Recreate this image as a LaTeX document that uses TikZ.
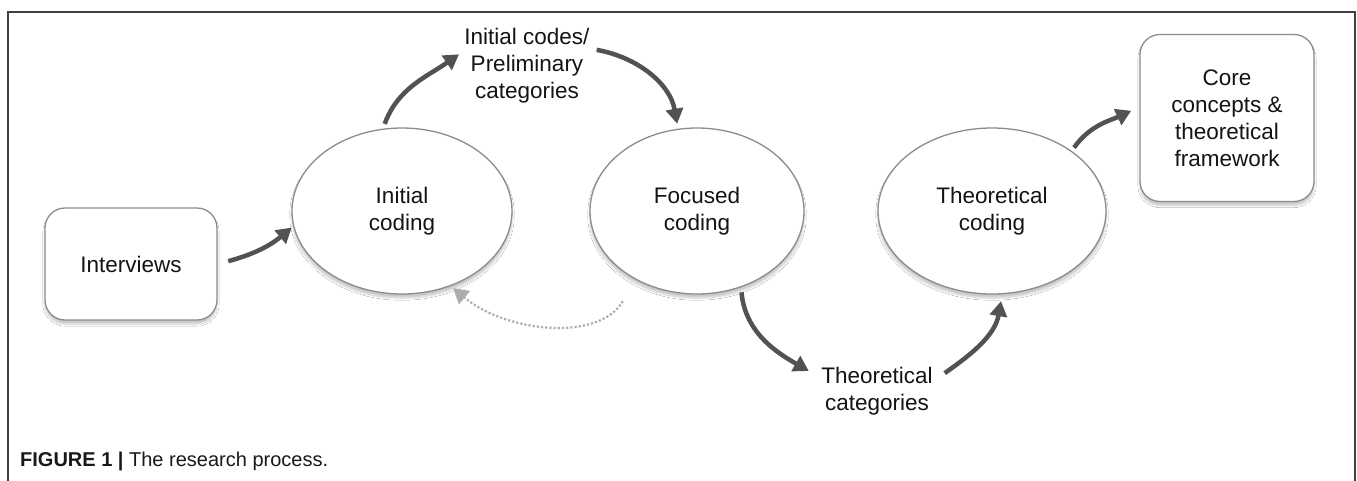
\documentclass[tikz,border=0pt]{standalone}
\usepackage{fontspec}
\setmainfont{Liberation Sans}
\usetikzlibrary{shapes.geometric,arrows.meta,shadows.blur}
\begin{document}
\begin{tikzpicture}[x=1pt,y=-1pt,
  lbl/.style={font=\fontsize{22.5}{27}\selectfont, align=center, inner sep=2pt, text=black!92},
  softshadow/.style={blur shadow={shadow xshift=0pt, shadow yshift=-4pt, shadow opacity=22, shadow blur steps=8, shadow blur extra rounding=2pt}},
  oval/.style={ellipse, draw=black!45, line width=1.3pt, fill=white, inner sep=0pt, softshadow, lbl},
  rbox/.style={rectangle, rounded corners=20pt, draw=black!45, line width=1.3pt, fill=white, inner sep=0pt, softshadow, lbl},
  arr/.style={draw=black!68, line width=4.5pt, -{Triangle[length=15pt,width=17pt]}},
  dotarr/.style={draw=black!32, line width=2.2pt, dash pattern=on 2.2pt off 2pt, -{Triangle[length=15pt,width=17pt]}},
  frame/.style={draw=black!75, line width=1.5pt}
]
\useasboundingbox (0,0) rectangle (1357,480);
\fill[white] (0,0) rectangle (1357,480);
% outer frame (open at the bottom)
\draw[frame] (8,495) -- (8,12) -- (1355,12) -- (1355,495);

% nodes
\node[rbox, minimum width=172pt, minimum height=112pt] (intv) at (131,264) {Interviews};
\node[oval, minimum width=220pt, minimum height=166pt] (ic) at (402,211) {Initial\\coding};
\node[oval, minimum width=214pt, minimum height=166pt] (fc) at (697,211) {Focused\\coding};
\node[oval, minimum width=228pt, minimum height=166pt] (tc) at (992,211) {Theoretical\\coding};
\node[rbox, minimum width=174pt, minimum height=167pt] (core) at (1227,118) {Core\\concepts \&\\theoretical\\framework};
\node[lbl] (codes) at (527,66) {Initial codes/\\Preliminary\\categories};
\node[lbl] (tcat) at (877,391) {Theoretical\\categories};
\node[anchor=west, inner sep=0pt, font=\fontsize{20}{24}\selectfont, text=black!90] (cap) at (20,461) {\textbf{FIGURE 1} \textbf{|} The research process.};

% connectors
\draw[arr, shorten <=11pt, shorten >=2pt] (intv.east) to[out=15, in=220] (ic.188);
\draw[arr, shorten <=5pt, shorten >=4pt] (ic.103) to[out=70, in=215] ([yshift=14pt]codes.west);
\draw[arr, shorten <=5pt, shorten >=5pt] ([yshift=17pt]codes.east) to[out=-10, in=100] (fc.103);
\draw[arr, shorten <=5pt, shorten >=12pt] (fc.-60) to[out=-85, in=150] ([yshift=14pt]tcat.west);
\draw[arr, shorten <=12pt, shorten >=7pt] ([yshift=11pt]tcat.east) to[out=35, in=-100] (tc.-83);
\draw[arr, shorten <=4pt, shorten >=9pt] (tc.37) to[out=55, in=205] ([yshift=11pt]core.west);
\draw[dotarr, shorten <=25pt, shorten >=3pt] (fc.228) to[out=240, in=-40] (ic.-57);
\end{tikzpicture}
\end{document}
